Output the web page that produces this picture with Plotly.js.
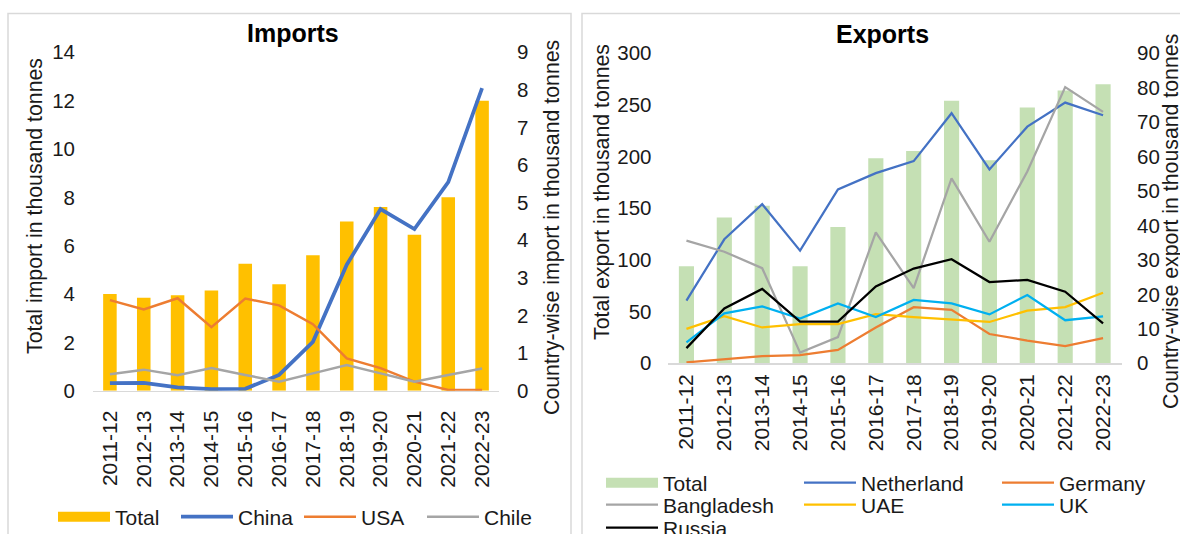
<!DOCTYPE html>
<html><head><meta charset="utf-8">
<script src="https://cdn.plot.ly/plotly-3.0.1.min.js"></script>
<style>html,body{margin:0;padding:0;background:#fff;overflow:hidden}#chart{width:1180px;height:534px}</style>
</head><body><div id="chart"></div>
<script>
// ---------- data ----------
const years = ["2011-12","2012-13","2013-14","2014-15","2015-16","2016-17","2017-18","2018-19","2019-20","2020-21","2021-22","2022-23"];

// Imports (thousand tonnes)
const importTotal = [4.0, 3.85, 3.95, 4.15, 5.25, 4.4, 5.6, 7.0, 7.6, 6.45, 8.0, 12.0];
const importChina = [0.2, 0.21, 0.09, 0.04, 0.05, 0.42, 1.3, 3.35, 4.83, 4.3, 5.55, 8.05];
const importUSA   = [2.41, 2.16, 2.46, 1.69, 2.45, 2.27, 1.77, 0.86, 0.6, 0.24, 0.02, 0.02];
const importChile = [0.44, 0.56, 0.41, 0.6, 0.42, 0.24, 0.46, 0.68, 0.46, 0.24, 0.42, 0.59];

// Exports (thousand tonnes)
const exportTotal      = [94, 141, 152.5, 94, 132, 198.5, 205.5, 254, 196.5, 247.5, 264, 270];
const exportNetherland = [18.2, 36.0, 46.2, 32.7, 50.5, 55.2, 58.7, 72.6, 56.3, 68.7, 75.7, 72.0];
const exportGermany    = [0.3, 1.2, 2.1, 2.4, 3.9, 10.4, 16.3, 15.5, 8.5, 6.6, 5.0, 7.3];
const exportBangladesh = [35.6, 32.4, 27.6, 3.1, 7.6, 38.0, 21.8, 53.7, 35.3, 55.7, 80.2, 73.0];
const exportUAE        = [10.0, 13.7, 10.4, 11.4, 11.4, 14.3, 13.4, 12.6, 12.0, 15.3, 16.3, 20.5];
const exportUK         = [6.1, 14.5, 16.5, 13.0, 17.4, 13.4, 18.4, 17.4, 14.2, 19.8, 12.5, 13.6];
const exportRussia     = [4.4, 15.9, 21.6, 12.1, 12.1, 22.3, 27.5, 30.2, 23.6, 24.2, 20.8, 11.6];

// ---------- layout helpers ----------
const W = 1180, H = 534;
const px = v => v / W;
const py = v => 1 - v / H;
const FONT = "Liberation Sans, Arial, sans-serif";
const TXT = "#1a1a1a";

function lineTrace(name, x, y, xa, ya, color, width, legend) {
  return {type: "scatter", mode: "lines", name, x, y, xaxis: xa, yaxis: ya,
    line: {color, width}, legend, hoverinfo: "x+y+name"};
}
function legendSwatch(name, color, legend) {
  return {type: "scatter", mode: "lines", name, x: [null], y: [null], xaxis: "x", yaxis: "y",
    line: {color, width: 10}, legend, hoverinfo: "skip"};
}

const traces = [
  {type: "bar", name: "Total", x: years, y: importTotal, xaxis: "x", yaxis: "y",
   marker: {color: "#FFC000"}, showlegend: false},
  legendSwatch("Total", "#FFC000", "legend"),
  lineTrace("China", years, importChina, "x", "y2", "#4472C4", 3.75, "legend"),
  lineTrace("USA", years, importUSA, "x", "y2", "#ED7D31", 2.5, "legend"),
  lineTrace("Chile", years, importChile, "x", "y2", "#A5A5A5", 2.5, "legend"),

  {type: "bar", name: "Total", x: years, y: exportTotal, xaxis: "x2", yaxis: "y3",
   marker: {color: "#C5E0B4"}, showlegend: false},
  legendSwatch("Total", "#C5E0B4", "legend2"),
  lineTrace("Netherland", years, exportNetherland, "x2", "y4", "#4472C4", 2.25, "legend2"),
  lineTrace("Germany", years, exportGermany, "x2", "y4", "#ED7D31", 2.25, "legend2"),
  lineTrace("Bangladesh", years, exportBangladesh, "x2", "y4", "#A5A5A5", 2.25, "legend3"),
  lineTrace("UAE", years, exportUAE, "x2", "y4", "#FFC000", 2.25, "legend3"),
  lineTrace("UK", years, exportUK, "x2", "y4", "#00B0F0", 2.25, "legend3"),
  lineTrace("Russia", years, exportRussia, "x2", "y4", "#000000", 2.25, "legend4")
];

const tickFont = {family: FONT, size: 21, color: TXT};
function xAxis(domain, anchor, standoff) {
  return {domain, anchor, type: "category", categoryorder: "array", categoryarray: years,
    tickangle: -90, tickfont: tickFont, showline: true, linecolor: "#D9D9D9", linewidth: 1.5,
    showgrid: false, zeroline: false, ticks: "", ticklabelstandoff: standoff, fixedrange: true};
}
function yAxis(domain, anchor, range, dtick, side, overlaying, standoff) {
  const a = {domain, anchor, range, dtick, tick0: 0, side, tickfont: {family: FONT, size: 20.5, color: TXT},
    showline: false, showgrid: false, zeroline: false, ticks: "", ticklabelstandoff: standoff, fixedrange: true};
  if (overlaying) a.overlaying = overlaying;
  return a;
}

const impY = [py(390.7), py(52.3)];
const expY = [py(363.3), py(53.3)];

function legendCfg(x, y, extra) {
  return Object.assign({orientation: "h", x: px(x), y: py(y), xanchor: "left", yanchor: "middle",
    font: {family: FONT, size: 21, color: TXT}, itemwidth: 52, bgcolor: "rgba(0,0,0,0)",
    borderwidth: 0, traceorder: "normal", itemclick: false, itemdoubleclick: false}, extra || {});
}

function ann(text, x, y, size, extra) {
  return Object.assign({text, xref: "paper", yref: "paper", x: px(x), y: py(y),
    xanchor: "center", yanchor: "middle", showarrow: false,
    font: {family: FONT, size, color: TXT}}, extra || {});
}

const layout = {
  width: W, height: H,
  margin: {l: 0, r: 0, t: 0, b: 0, autoexpand: false},
  paper_bgcolor: "#fff", plot_bgcolor: "rgba(0,0,0,0)",
  bargap: 0.6,
  showlegend: true,
  xaxis: xAxis([px(93), px(499)], "y", 10),
  yaxis: yAxis(impY, "x", [0, 14], 2, "left", null, 17),
  yaxis2: yAxis(impY, "x", [0, 9], 1, "right", "y", 17),
  xaxis2: xAxis([px(667.5), px(1122)], "y3", 1),
  yaxis3: yAxis(expY, "x2", [0, 300], 50, "left", null, 15),
  yaxis4: yAxis(expY, "x2", [0, 90], 10, "right", "y3", 14),
  legend: legendCfg(53, 517, {entrywidth: 56, entrywidthmode: "pixels"}),
  legend2: legendCfg(601, 483, {entrywidth: 131, entrywidthmode: "pixels"}),
  legend3: legendCfg(601, 505, {entrywidth: 131, entrywidthmode: "pixels"}),
  legend4: legendCfg(601, 528, {entrywidth: 131, entrywidthmode: "pixels"}),
  shapes: [
    {type: "rect", xref: "paper", yref: "paper", x0: px(8), x1: px(571), y0: py(13.5), y1: py(600),
     line: {color: "#D9D9D9", width: 1.5}, layer: "below"},
    {type: "rect", xref: "paper", yref: "paper", x0: px(582), x1: px(1230), y0: py(13.5), y1: py(600),
     line: {color: "#D9D9D9", width: 1.5}, layer: "below"}
  ],
  annotations: [
    ann("<b>Imports</b>", 293, 33, 25, {font: {family: FONT, size: 25, color: "#000"}}),
    ann("<b>Exports</b>", 882, 34, 25, {font: {family: FONT, size: 25, color: "#000"}}),
    ann("Total import in thousand tonnes", 35, 206, 21.3, {textangle: -90}),
    ann("Country-wise import in thousand tonnes", 552, 228, 21.3, {textangle: -90}),
    ann("Total export in thousand tonnes", 602, 192, 21.3, {textangle: -90}),
    ann("Country-wise export in thousand tonnes", 1171, 222, 21.3, {textangle: -90})
  ]
};

Plotly.newPlot("chart", traces, layout, {displayModeBar: false, staticPlot: true});
</script>
</body></html>
